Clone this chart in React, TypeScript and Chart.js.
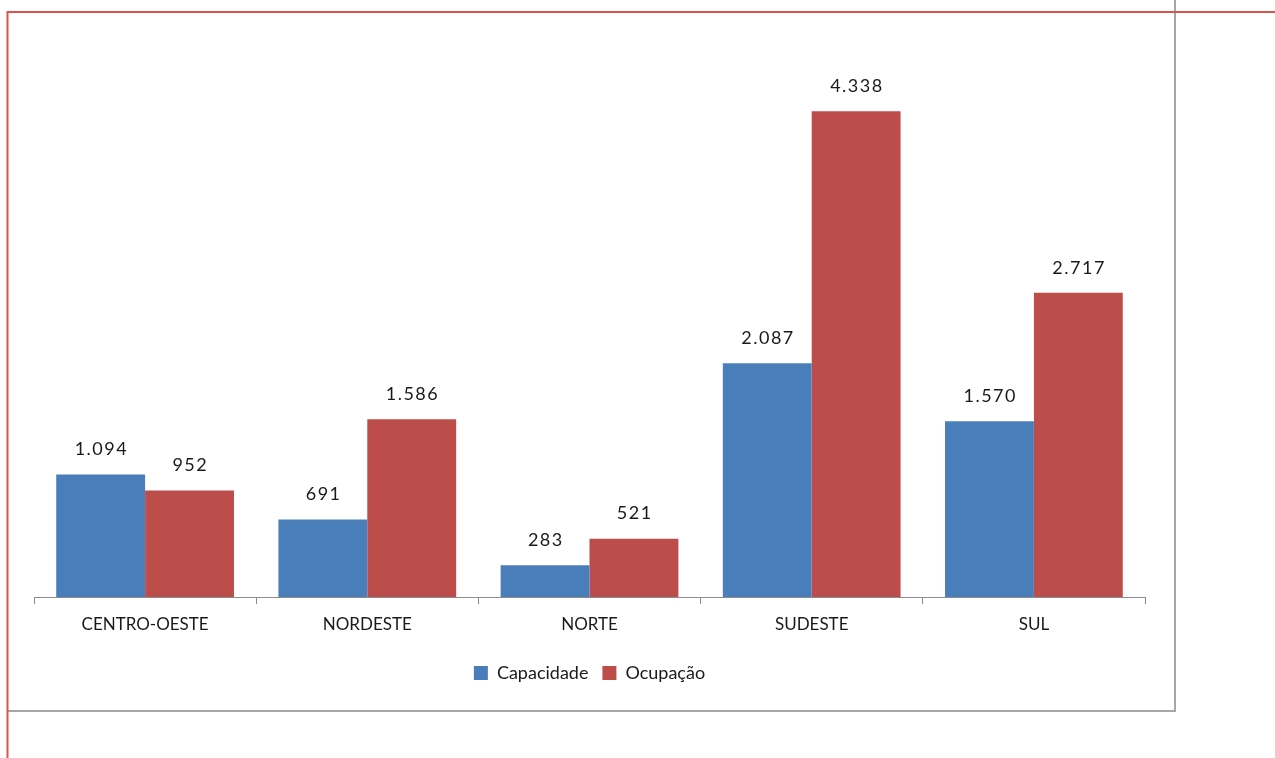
import React, { useEffect, useRef } from "react";
import { Chart, registerables } from "chart.js";

Chart.register(...registerables);

const categories = ["CENTRO-OESTE", "NORDESTE", "NORTE", "SUDESTE", "SUL"];
const capacidade = [1094, 691, 283, 2087, 1570];
const ocupacao = [952, 1586, 521, 4338, 2717];
const seriesNames = ["Capacidade", "Ocupação"];

const FONT = "Lato, 'Open Sans', sans-serif";

function fmt(v: number): string {
  const s = String(Math.round(v));
  return s.replace(/\B(?=(\d{3})+(?!\d))/g, ".");
}

const framePlugin = {
  id: "frame",
  beforeDraw(chart: any) {
    const ctx = chart.ctx;
    ctx.save();
    ctx.fillStyle = "#ffffff";
    ctx.fillRect(0, 0, chart.width, chart.height);
    ctx.strokeStyle = "#a6a6a6";
    ctx.lineWidth = 2;
    ctx.beginPath();
    ctx.moveTo(1175, 0);
    ctx.lineTo(1175, 711);
    ctx.lineTo(7, 711);
    ctx.stroke();
    ctx.strokeStyle = "#d9534f";
    ctx.beginPath();
    ctx.moveTo(1275, 12);
    ctx.lineTo(7.5, 12);
    ctx.lineTo(7.5, 758);
    ctx.stroke();
    ctx.restore();
  },
};

const labelPlugin = {
  id: "valueLabels",
  afterDatasetsDraw(chart: any) {
    const ctx = chart.ctx;
    ctx.save();
    ctx.font = "18px " + FONT;
    try { (ctx as any).letterSpacing = "1.5px"; } catch (e) {}
    ctx.fillStyle = "#1a1a1a";
    ctx.textAlign = "center";
    ctx.textBaseline = "middle";
    chart.data.datasets.forEach((ds: any, i: number) => {
      const meta = chart.getDatasetMeta(i);
      meta.data.forEach((bar: any, j: number) => {
        ctx.fillText(fmt(ds.data[j]), bar.x + 0.75, bar.y - 25);
      });
    });
    ctx.restore();
  },
};

export default function App() {
  const ref = useRef<HTMLCanvasElement>(null);
  useEffect(() => {
    document.body.style.margin = "0";
    const chart = new Chart(ref.current!, {
      type: "bar",
      data: {
        labels: categories,
        datasets: [
          { label: seriesNames[0], data: capacidade, backgroundColor: "#4a7ebb", barPercentage: 1, categoryPercentage: 0.8 },
          { label: seriesNames[1], data: ocupacao, backgroundColor: "#bc4d4a", barPercentage: 1, categoryPercentage: 0.8 },
        ],
      },
      options: {
        animation: false,
        responsive: false,
        layout: { padding: { left: 34, right: 130, top: 37, bottom: 66 } },
        plugins: {
          legend: {
            position: "bottom",
            labels: {
              boxWidth: 14,
              boxHeight: 14,
              padding: 14,
              color: "#1a1a1a",
              font: { size: 18, family: FONT },
            },
          },
          tooltip: { enabled: false },
        },
        scales: {
          y: { display: false, min: 0, max: 5000 },
          x: {
            afterFit: (s: any) => { s.height = 53; },
            border: { display: true, color: "#8c8c8c", width: 1 },
            grid: { display: true, drawOnChartArea: false, drawTicks: true, tickLength: 7, color: "#8c8c8c", offset: true },
            ticks: { color: "#1a1a1a", font: { size: 17, family: FONT }, padding: 10 },
          },
        },
      },
      plugins: [framePlugin, labelPlugin],
    });
    return () => chart.destroy();
  }, []);
  return <canvas ref={ref} width={1275} height={758} style={{ display: "block" }} />;
}
